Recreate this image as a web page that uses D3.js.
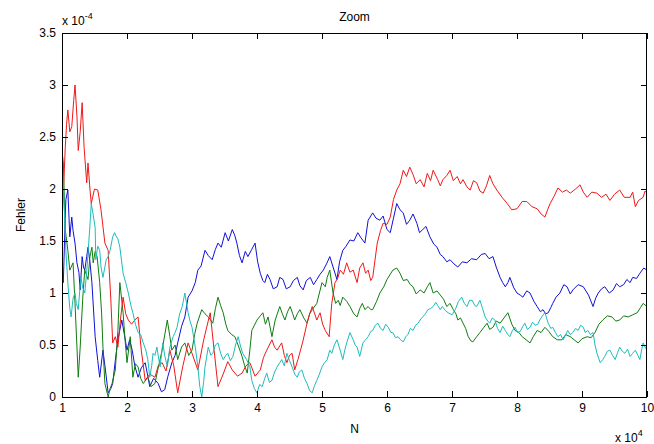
<!DOCTYPE html>
<html><head><meta charset="utf-8">
<script src="https://cdn.jsdelivr.net/npm/d3@7/dist/d3.min.js"></script>
<style>
body{margin:0;background:#fff;}
text{font-family:"Liberation Sans",Arial,Helvetica,sans-serif;}
</style>
</head><body>
<svg id="chart" width="654" height="444"></svg>
<script>
// Tick values
const xTicks = [1,2,3,4,5,6,7,8,9,10];
const yTicks = [0,0.5,1,1.5,2,2.5,3,3.5];

// Series (N in units of 10^4, Fehler in units of 10^-4)
const redN = [1.00,1.03,1.05,1.07,1.09,1.12,1.15,1.18,1.20,1.23,1.25,1.28,1.31,1.34,1.38,1.40,1.43,1.45,1.50,1.55,1.60,1.66,1.71,1.75,1.78,1.82,1.86,1.90,1.94,1.98,2.02,2.07,2.12,2.17,2.22,2.28,2.35,2.43,2.48,2.54,2.60,2.66,2.72,2.78,2.86,2.94,3.00,3.09,3.18,3.28,3.34,3.40,3.48,3.55,3.62,3.70,3.77,3.83,3.89,3.97,4.05,4.10,4.15,4.23,4.27,4.31,4.38,4.42,4.46,4.50,4.54,4.58,4.63,4.70,4.77,4.81,4.85,4.92,4.97,5.01,5.05,5.11,5.15,5.20,5.24,5.28,5.33,5.38,5.43,5.48,5.54,5.58,5.63,5.67,5.71,5.75,5.78,5.85,5.90,5.94,6.00,6.05,6.10,6.15,6.20,6.25,6.30,6.35,6.40,6.45,6.51,6.57,6.62,6.67,6.71,6.78,6.82,6.86,6.92,6.97,7.02,7.08,7.13,7.17,7.23,7.28,7.33,7.38,7.43,7.48,7.53,7.58,7.63,7.69,7.77,7.85,7.92,8.00,8.08,8.15,8.23,8.31,8.37,8.43,8.47,8.51,8.57,8.63,8.70,8.76,8.82,8.90,8.97,9.02,9.08,9.15,9.23,9.30,9.37,9.43,9.50,9.58,9.65,9.74,9.78,9.82,9.87,9.94,9.97,10.00];
const redE = [1.67,2.10,2.40,2.62,2.76,2.55,2.60,2.85,3.00,2.70,2.37,2.55,2.83,2.40,2.06,2.25,2.00,1.86,2.00,1.99,1.80,1.48,1.41,0.95,0.52,0.58,0.48,0.75,0.96,0.80,0.74,0.70,0.74,0.77,0.45,0.16,0.22,0.19,0.30,0.33,0.25,0.45,0.30,0.04,0.30,0.52,0.42,0.26,0.55,0.81,0.45,0.10,0.22,0.34,0.26,0.20,0.23,0.30,0.33,0.20,0.26,0.38,0.45,0.55,0.48,0.45,0.52,0.40,0.33,0.40,0.42,0.26,0.36,0.52,0.71,0.80,0.87,0.74,0.81,0.70,0.64,0.58,0.90,1.10,1.14,1.22,1.18,1.29,1.20,1.22,1.10,1.24,1.29,1.19,1.22,1.12,1.15,1.48,1.60,1.67,1.66,1.73,1.90,1.99,2.05,2.18,2.12,2.21,2.14,2.05,2.09,2.02,2.15,2.08,2.18,2.09,2.03,2.09,2.13,2.18,2.08,2.12,2.05,2.09,2.02,1.99,2.08,2.06,1.98,1.96,2.03,2.13,2.05,1.99,1.92,1.86,1.80,1.81,1.88,1.88,1.83,1.81,1.76,1.73,1.80,1.86,1.93,2.01,1.97,1.99,1.96,2.00,2.04,1.97,1.92,1.97,1.96,1.92,1.95,1.89,1.95,1.99,1.92,1.92,1.97,1.83,1.89,1.92,1.98,1.96];

const blueN = [1.00,1.02,1.03,1.05,1.06,1.09,1.12,1.15,1.17,1.20,1.23,1.26,1.28,1.31,1.33,1.35,1.38,1.40,1.43,1.46,1.51,1.55,1.58,1.63,1.67,1.71,1.75,1.78,1.82,1.86,1.92,1.96,2.00,2.04,2.08,2.12,2.17,2.22,2.28,2.32,2.35,2.41,2.48,2.53,2.58,2.63,2.69,2.74,2.78,2.84,2.89,2.94,3.00,3.05,3.09,3.14,3.20,3.25,3.31,3.36,3.40,3.45,3.51,3.56,3.62,3.66,3.69,3.73,3.77,3.82,3.86,3.92,3.97,4.01,4.05,4.09,4.12,4.16,4.20,4.25,4.31,4.35,4.40,4.45,4.51,4.56,4.62,4.66,4.71,4.76,4.82,4.87,4.92,4.97,5.02,5.07,5.12,5.17,5.23,5.27,5.32,5.37,5.43,5.49,5.55,5.60,5.66,5.71,5.78,5.83,5.89,5.94,6.00,6.05,6.10,6.15,6.20,6.25,6.30,6.35,6.40,6.46,6.50,6.55,6.60,6.66,6.72,6.77,6.82,6.86,6.92,6.97,7.03,7.09,7.16,7.23,7.30,7.38,7.45,7.51,7.57,7.63,7.68,7.74,7.78,7.82,7.86,7.89,7.95,8.00,8.05,8.09,8.15,8.20,8.26,8.31,8.36,8.40,8.44,8.48,8.52,8.55,8.60,8.66,8.72,8.77,8.82,8.86,8.94,9.02,9.10,9.17,9.21,9.25,9.30,9.35,9.42,9.48,9.53,9.58,9.64,9.69,9.74,9.78,9.84,9.89,9.95,10.00];
const blueE = [1.15,1.10,1.30,1.75,1.90,1.99,1.54,1.73,1.60,1.48,1.29,1.20,1.03,1.35,1.25,1.22,1.35,1.44,1.30,1.10,0.58,0.35,0.19,0.45,0.25,0.04,0.08,0.13,0.35,0.55,0.74,0.60,0.45,0.55,0.45,0.30,0.19,0.28,0.33,0.20,0.10,0.18,0.13,0.05,0.07,0.20,0.33,0.40,0.52,0.68,0.77,0.96,1.02,1.10,1.22,1.26,1.41,1.36,1.32,1.42,1.48,1.44,1.58,1.50,1.61,1.55,1.48,1.36,1.29,1.40,1.35,1.42,1.48,1.30,1.19,1.12,1.10,1.18,1.13,1.04,1.06,1.15,1.13,1.04,1.06,1.12,1.15,1.07,1.03,1.12,1.15,1.08,1.13,1.18,1.22,1.28,1.35,1.25,1.13,1.30,1.41,1.45,1.51,1.50,1.58,1.53,1.48,1.70,1.77,1.72,1.70,1.74,1.61,1.58,1.72,1.86,1.80,1.77,1.66,1.70,1.76,1.67,1.58,1.61,1.64,1.54,1.47,1.44,1.37,1.35,1.30,1.32,1.28,1.25,1.30,1.29,1.33,1.32,1.37,1.38,1.33,1.35,1.25,1.15,1.10,1.06,1.10,1.15,1.05,1.00,0.98,0.96,1.02,1.00,0.92,0.87,0.82,0.84,0.80,0.81,0.86,0.90,0.96,1.00,1.08,1.06,0.99,1.03,1.08,1.06,0.98,0.87,0.95,1.00,1.04,1.06,1.00,1.03,1.09,1.06,1.08,1.13,1.10,1.15,1.14,1.19,1.24,1.22];

const greenN = [1.00,1.02,1.05,1.09,1.12,1.17,1.20,1.23,1.25,1.28,1.32,1.35,1.40,1.43,1.46,1.48,1.51,1.54,1.58,1.61,1.63,1.66,1.71,1.74,1.77,1.82,1.86,1.89,1.94,1.97,2.00,2.05,2.09,2.13,2.17,2.21,2.25,2.32,2.37,2.43,2.48,2.54,2.62,2.66,2.69,2.74,2.78,2.84,2.89,2.95,3.00,3.04,3.08,3.15,3.20,3.25,3.32,3.36,3.40,3.44,3.48,3.52,3.55,3.61,3.66,3.72,3.77,3.81,3.85,3.89,3.92,4.00,4.05,4.09,4.13,4.17,4.23,4.28,4.35,4.39,4.43,4.47,4.51,4.55,4.58,4.62,4.66,4.72,4.77,4.81,4.85,4.92,4.96,5.00,5.05,5.08,5.12,5.17,5.21,5.25,5.28,5.32,5.38,5.43,5.49,5.54,5.58,5.62,5.66,5.71,5.75,5.78,5.84,5.89,5.95,6.00,6.05,6.09,6.15,6.20,6.25,6.31,6.36,6.40,6.45,6.51,6.57,6.62,6.66,6.71,6.77,6.82,6.87,6.92,6.97,7.02,7.06,7.09,7.13,7.17,7.21,7.25,7.29,7.32,7.38,7.43,7.49,7.54,7.58,7.63,7.68,7.74,7.80,7.86,7.92,7.97,8.03,8.08,8.14,8.20,8.25,8.31,8.37,8.43,8.49,8.55,8.62,8.69,8.75,8.82,8.88,8.94,9.00,9.08,9.14,9.20,9.26,9.32,9.39,9.46,9.52,9.58,9.64,9.71,9.78,9.85,9.90,9.94,10.00];
const greenE = [2.37,2.25,1.61,1.41,1.22,1.29,0.90,0.48,0.19,0.48,0.96,1.22,1.13,1.35,1.44,1.29,1.40,1.35,1.10,0.80,0.48,0.13,0.00,0.08,0.13,0.26,0.64,1.10,0.81,0.55,0.33,0.58,0.19,0.32,0.29,0.18,0.13,0.19,0.10,0.13,0.28,0.45,0.74,0.58,0.45,0.50,0.36,0.48,0.52,0.40,0.45,0.60,0.71,0.84,0.80,0.77,0.71,0.85,0.96,0.88,0.81,0.70,0.64,0.60,0.58,0.48,0.39,0.30,0.23,0.45,0.64,0.74,0.78,0.81,0.70,0.77,0.58,0.74,0.87,0.80,0.74,0.82,0.87,0.80,0.74,0.80,0.84,0.76,0.71,0.80,0.84,0.90,1.00,1.10,1.06,1.15,1.22,1.00,0.90,0.93,0.88,0.96,0.92,0.87,0.80,0.77,0.85,0.90,0.84,0.87,0.84,0.84,0.92,1.00,1.06,1.13,1.18,1.22,1.24,1.19,1.12,1.13,1.08,1.06,0.99,1.03,1.00,1.06,1.10,1.00,1.02,0.98,0.94,0.87,0.90,0.84,0.80,0.74,0.76,0.71,0.66,0.58,0.54,0.53,0.58,0.62,0.67,0.71,0.65,0.67,0.73,0.71,0.76,0.81,0.70,0.64,0.62,0.58,0.55,0.52,0.58,0.64,0.62,0.67,0.63,0.58,0.55,0.55,0.60,0.58,0.55,0.52,0.56,0.58,0.57,0.62,0.70,0.74,0.78,0.77,0.73,0.74,0.78,0.77,0.79,0.81,0.86,0.90,0.87];

const cyanN = [1.00,1.03,1.06,1.09,1.12,1.14,1.17,1.20,1.22,1.25,1.27,1.29,1.32,1.35,1.38,1.40,1.43,1.45,1.48,1.51,1.52,1.55,1.58,1.60,1.63,1.66,1.68,1.71,1.74,1.78,1.81,1.83,1.86,1.89,1.94,1.98,2.02,2.06,2.09,2.13,2.17,2.21,2.25,2.29,2.32,2.35,2.38,2.40,2.43,2.46,2.49,2.51,2.55,2.58,2.62,2.66,2.71,2.74,2.77,2.81,2.85,2.89,2.94,2.97,3.00,3.05,3.09,3.12,3.15,3.18,3.20,3.25,3.29,3.32,3.36,3.40,3.44,3.48,3.52,3.55,3.59,3.63,3.67,3.71,3.75,3.78,3.84,3.89,3.92,3.96,4.00,4.04,4.08,4.12,4.15,4.19,4.23,4.27,4.31,4.35,4.38,4.42,4.46,4.50,4.54,4.58,4.62,4.65,4.69,4.73,4.77,4.81,4.85,4.88,4.92,4.96,5.00,5.04,5.08,5.12,5.15,5.19,5.23,5.28,5.32,5.35,5.38,5.43,5.48,5.51,5.54,5.58,5.63,5.67,5.71,5.75,5.78,5.82,5.86,5.90,5.94,5.98,6.02,6.06,6.09,6.13,6.17,6.21,6.25,6.29,6.32,6.36,6.40,6.44,6.48,6.52,6.55,6.59,6.63,6.67,6.71,6.75,6.78,6.82,6.85,6.90,6.94,7.00,7.05,7.10,7.15,7.19,7.23,7.27,7.31,7.35,7.38,7.43,7.47,7.51,7.55,7.58,7.62,7.66,7.70,7.74,7.78,7.82,7.86,7.89,7.93,7.97,8.01,8.05,8.09,8.12,8.16,8.20,8.24,8.28,8.32,8.35,8.39,8.43,8.46,8.48,8.52,8.55,8.59,8.63,8.67,8.71,8.75,8.78,8.82,8.86,8.90,8.94,8.98,9.02,9.05,9.09,9.13,9.17,9.20,9.23,9.28,9.32,9.35,9.39,9.43,9.47,9.51,9.55,9.58,9.62,9.66,9.70,9.74,9.78,9.82,9.86,9.89,9.92,9.94,9.97,10.00];
const cyanE = [2.35,1.90,1.40,1.10,0.85,0.77,0.95,1.00,0.90,0.84,1.00,1.15,1.05,1.00,1.20,1.38,1.65,1.86,1.75,1.63,1.32,1.45,1.41,1.25,1.15,1.25,1.32,1.35,1.41,1.54,1.58,1.55,1.52,1.44,1.19,1.10,1.00,0.88,0.81,0.70,0.62,0.60,0.52,0.45,0.36,0.19,0.30,0.42,0.40,0.48,0.36,0.29,0.52,0.40,0.29,0.48,0.58,0.62,0.67,0.80,0.87,1.00,0.81,0.73,0.67,0.48,0.29,0.10,0.00,0.15,0.29,0.48,0.40,0.42,0.50,0.52,0.42,0.36,0.40,0.42,0.35,0.39,0.50,0.58,0.48,0.42,0.36,0.29,0.16,0.08,0.04,0.12,0.10,0.18,0.23,0.14,0.16,0.24,0.29,0.33,0.36,0.30,0.42,0.35,0.29,0.22,0.19,0.24,0.26,0.18,0.13,0.06,0.04,0.10,0.16,0.22,0.29,0.33,0.36,0.45,0.42,0.50,0.55,0.45,0.36,0.45,0.52,0.62,0.55,0.50,0.48,0.39,0.52,0.55,0.58,0.63,0.64,0.69,0.71,0.66,0.64,0.70,0.67,0.62,0.62,0.57,0.58,0.55,0.53,0.58,0.60,0.66,0.64,0.69,0.71,0.75,0.77,0.80,0.84,0.85,0.87,0.91,0.88,0.84,0.87,0.83,0.81,0.79,0.84,0.92,0.96,0.90,0.87,0.93,0.93,0.88,0.87,0.93,0.85,0.77,0.73,0.71,0.76,0.74,0.66,0.62,0.68,0.64,0.60,0.58,0.64,0.67,0.62,0.63,0.68,0.71,0.65,0.67,0.72,0.69,0.70,0.74,0.78,0.81,0.75,0.71,0.66,0.67,0.62,0.58,0.60,0.55,0.60,0.64,0.60,0.62,0.66,0.64,0.69,0.67,0.62,0.64,0.60,0.62,0.50,0.42,0.33,0.36,0.39,0.44,0.45,0.40,0.36,0.43,0.48,0.44,0.42,0.46,0.39,0.42,0.45,0.40,0.36,0.46,0.52,0.48,0.45];

const seriesNames = ["blue","green","red","cyan"];
const seriesColors = ["#1010d8","#107c10","#f01818","#1cbcbc"];
const seriesN = [blueN, greenN, redN, cyanN];
const seriesE = [blueE, greenE, redE, cyanE];

const svg = d3.select("#chart");
const L = 62, R = 647, T = 33, B = 397;
const x = d3.scaleLinear().domain([1,10]).range([L,R]);
const y = d3.scaleLinear().domain([0,3.5]).range([B,T]);

const fmt = d3.format("~g");
const axisColor = "#000";

// Lines
svg.append("clipPath").attr("id","clp").append("rect")
  .attr("x",L).attr("y",T).attr("width",R-L).attr("height",B-T);
const line = d3.line().x(d=>x(d[0])).y(d=>y(d[1]));
const gLines = svg.append("g").attr("clip-path","url(#clp)");
seriesNames.forEach((nm,i)=>{
  const pts = seriesN[i].map((n,k)=>[n, seriesE[i][k]]);
  gLines.append("path").datum(pts)
    .attr("fill","none").attr("stroke",seriesColors[i])
    .attr("stroke-width",1)
    .attr("d",line);
});

// Axes
function styleAxis(g){
  g.select(".domain").remove();
  g.selectAll(".tick line").attr("stroke",axisColor);
  g.selectAll(".tick text").attr("fill","#000").style("font-size","12px");
}
svg.append("g").attr("transform",`translate(0,${B})`)
  .call(d3.axisBottom(x).tickValues(xTicks).tickFormat(fmt).tickSizeInner(-6).tickSizeOuter(0).tickPadding(6))
  .call(styleAxis);
svg.append("g").attr("transform",`translate(0,${T})`)
  .call(d3.axisTop(x).tickValues(xTicks).tickFormat("").tickSizeInner(-6).tickSizeOuter(0))
  .call(styleAxis);
svg.append("g").attr("transform",`translate(${L},0)`)
  .call(d3.axisLeft(y).tickValues(yTicks).tickFormat(fmt).tickSizeInner(-6).tickSizeOuter(0).tickPadding(6))
  .call(styleAxis);
svg.append("g").attr("transform",`translate(${R},0)`)
  .call(d3.axisRight(y).tickValues(yTicks).tickFormat("").tickSizeInner(-6).tickSizeOuter(0))
  .call(styleAxis);

svg.append("rect").attr("x",L+0.5).attr("y",T+0.5).attr("width",R-L-1).attr("height",B-T)
  .attr("fill","none").attr("stroke",axisColor).attr("stroke-width",1);

// Title and labels
svg.append("text").attr("x",(L+R)/2).attr("y",21).attr("text-anchor","middle")
  .style("font-size","12px").text("Zoom");
svg.append("text").attr("x",(L+R)/2).attr("y",433).attr("text-anchor","middle")
  .style("font-size","12px").text("N");
svg.append("text").attr("transform",`translate(25,${(T+B)/2}) rotate(-90)`).attr("text-anchor","middle")
  .style("font-size","12px").text("Fehler");

const e1 = svg.append("text").attr("x",L).attr("y",25).style("font-size","12px");
e1.append("tspan").text("x 10");
e1.append("tspan").attr("dy",-6).style("font-size","9px").text("-4");

const e2 = svg.append("text").attr("x",615).attr("y",442).style("font-size","12px");
e2.append("tspan").text("x 10");
e2.append("tspan").attr("dy",-6).style("font-size","9px").text("4");
</script>
</body></html>
